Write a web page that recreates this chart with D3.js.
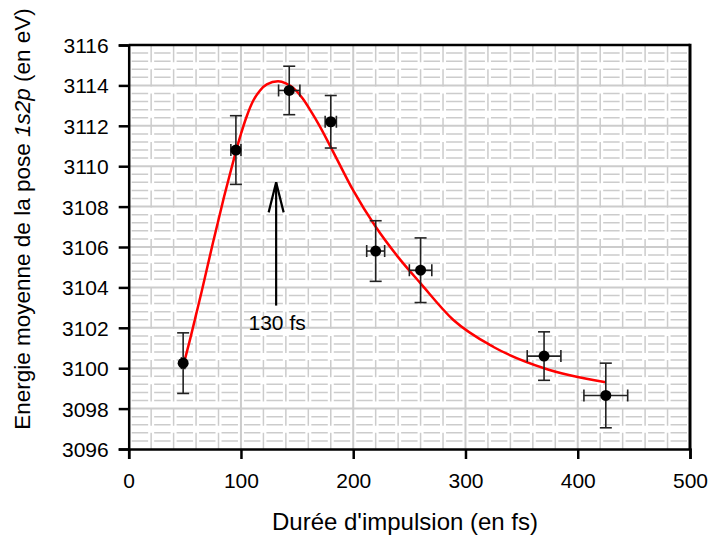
<!DOCTYPE html>
<html><head><meta charset="utf-8">
<script src="https://cdn.jsdelivr.net/npm/d3@7"></script>
<style>body{margin:0;background:#fff}svg{display:block}text{font-family:"Liberation Sans",Arial,sans-serif}</style>
</head><body>
<script>
// Data
const durations = [48.5, 95.5, 143, 180, 220, 260, 370, 425];
const energies = [3100.25, 3110.8, 3113.75, 3112.2, 3105.8, 3104.85, 3100.6, 3098.65];
const energyErr = [1.5, 1.7, 1.2, 1.3, 1.5, 1.6, 1.2, 1.6];
const durationErr = [1.5, 4.5, 9.5, 5, 8, 10, 15, 19.5];
const fitX = [49, 55, 65, 75, 85, 92, 100, 105, 111, 117, 123, 133, 140, 147, 155, 162, 170, 185, 200, 220, 240, 260, 289, 325, 370, 425];
const fitY = [3100.2, 3101.5, 3103.8, 3106.2, 3108.5, 3110.0, 3111.6, 3112.45, 3113.25, 3113.75, 3114.05, 3114.2, 3114.1, 3113.85, 3113.35, 3112.75, 3112.0, 3110.4, 3108.8, 3107.0, 3105.5, 3104.2, 3102.4, 3101.05, 3100.0, 3099.3];
const xTicks = [0, 100, 200, 300, 400, 500];
const yTicks = [3096, 3098, 3100, 3102, 3104, 3106, 3108, 3110, 3112, 3114, 3116];
const arrowX = 130, arrowFrom = 3103.1, arrowTo = 3109.2;
const arrowLabel = "130 fs";

const W = 709, H = 537;
const m = {left: 128.7, right: 19, top: 45, bottom: 88};
const svg = d3.select("body").append("svg").attr("width", W).attr("height", H);
const x = d3.scaleLinear().domain([0, 500]).range([m.left, W - m.right]);
const y = d3.scaleLinear().domain([3096, 3116]).range([H - m.bottom, m.top]);

const g = svg.append("g");
// minor grid
const minorX = d3.range(20, 500, 20).filter(v => v % 100 !== 0);
const minorY = d3.range(0, 50).map(i => 3096 + i * 0.4).filter(v => Math.abs(v - 2 * Math.round(v / 2)) > 0.01 && v > 3096.1);
const stepX = x(20) - x(0);
g.selectAll(".mh").data(minorY).join("line")
  .attr("x1", x(0)).attr("x2", x(500)).attr("y1", d => y(d)).attr("y2", d => y(d))
  .attr("stroke", "#cccccc").attr("stroke-width", 1.5)
  .attr("stroke-dasharray", `${stepX - 6},6`).attr("stroke-dashoffset", -3);
const stepY = y(3096) - y(3096.4);
g.selectAll(".mv").data(minorX).join("line")
  .attr("x1", d => x(d)).attr("x2", d => x(d)).attr("y1", y(3116)).attr("y2", y(3096))
  .attr("stroke", "#cccccc").attr("stroke-width", 1.5)
  .attr("stroke-dasharray", `${2 * stepY + 1},${stepY - 1}`);
// major grid
g.selectAll(".Mh").data(yTicks.slice(1, -1)).join("line")
  .attr("x1", x(0)).attr("x2", x(500)).attr("y1", d => y(d)).attr("y2", d => y(d))
  .attr("stroke", "#cccccc").attr("stroke-width", 2);
g.selectAll(".Mv").data(xTicks.slice(1, -1)).join("line")
  .attr("x1", d => x(d)).attr("x2", d => x(d)).attr("y1", y(3116)).attr("y2", y(3096))
  .attr("stroke", "#cccccc").attr("stroke-width", 2);

// frame
svg.append("line").attr("x1", x(0)).attr("x2", x(500)).attr("y1", y(3116)).attr("y2", y(3116)).attr("stroke", "#000").attr("stroke-width", 2.5);
svg.append("line").attr("x1", x(500)).attr("x2", x(500)).attr("y1", y(3116) - 1.25).attr("y2", y(3096)).attr("stroke", "#000").attr("stroke-width", 3);

// axes
const ax = svg.append("g").attr("transform", `translate(0,${y(3096)})`)
  .call(d3.axisBottom(x).tickValues(xTicks).tickSize(10).tickPadding(14));
const ay = svg.append("g").attr("transform", `translate(${x(0)},0)`)
  .call(d3.axisLeft(y).tickValues(yTicks).tickSize(10).tickPadding(10).tickFormat(d3.format("d")));
[ax, ay].forEach(a => {
  a.select(".domain").attr("stroke", "#000").attr("stroke-width", 2.5);
  a.selectAll(".tick line").attr("stroke", "#000").attr("stroke-width", 2.5);
  a.selectAll(".tick text").attr("fill", "#000").style("font-size", "21px");
});
ay.selectAll(".tick text").attr("dy", "0.36em");

// fit curve
const line = d3.line().x((d, i) => x(fitX[i])).y((d, i) => y(fitY[i])).curve(d3.curveMonotoneX);
svg.append("path").datum(fitX).attr("d", line).attr("fill", "none").attr("stroke", "#ff0000").attr("stroke-width", 2.5);

// error bars
const eb = svg.append("g").attr("stroke", "#222").attr("stroke-width", 1.6);
durations.forEach((d, i) => {
  const cx = x(d), cy = y(energies[i]);
  const y1 = y(energies[i] + energyErr[i]), y2 = y(energies[i] - energyErr[i]);
  const x1 = x(d - durationErr[i]), x2 = x(d + durationErr[i]);
  eb.append("line").attr("x1", cx).attr("x2", cx).attr("y1", y1).attr("y2", y2);
  eb.append("line").attr("x1", cx - 6).attr("x2", cx + 6).attr("y1", y1).attr("y2", y1);
  eb.append("line").attr("x1", cx - 6).attr("x2", cx + 6).attr("y1", y2).attr("y2", y2);
  eb.append("line").attr("x1", x1).attr("x2", x2).attr("y1", cy).attr("y2", cy);
  eb.append("line").attr("x1", x1).attr("x2", x1).attr("y1", cy - 6).attr("y2", cy + 6);
  eb.append("line").attr("x1", x2).attr("x2", x2).attr("y1", cy - 6).attr("y2", cy + 6);
});
svg.append("g").selectAll("circle").data(durations).join("circle")
  .attr("cx", d => x(d)).attr("cy", (d, i) => y(energies[i])).attr("r", 5.5).attr("fill", "#000");

// arrow
const ag = svg.append("g").attr("stroke", "#000").attr("stroke-width", 2.2).attr("fill", "none");
const axp = x(arrowX) + 1.5;
ag.append("line").attr("x1", axp).attr("x2", axp).attr("y1", y(arrowFrom)).attr("y2", y(arrowTo));
ag.append("path").attr("d", `M${axp - 7.5},${y(arrowTo) + 30}L${axp},${y(arrowTo)}L${axp + 7.5},${y(arrowTo) + 30}`);
svg.append("text").attr("x", axp + 1).attr("y", y(arrowFrom) + 24).attr("text-anchor", "middle")
  .style("font-size", "21px").text(arrowLabel);

// titles
svg.append("text").attr("x", 405).attr("y", 530).attr("text-anchor", "middle")
  .style("font-size", "24px").text("Durée d'impulsion (en fs)");
const yt = svg.append("text").attr("transform", `translate(30,219) rotate(-90)`)
  .attr("text-anchor", "middle").style("font-size", "22.5px");
yt.append("tspan").text("Energie moyenne de la pose ");
yt.append("tspan").style("font-style", "italic").text("1s2p");
yt.append("tspan").text(" (en eV)");
</script>
</body></html>
